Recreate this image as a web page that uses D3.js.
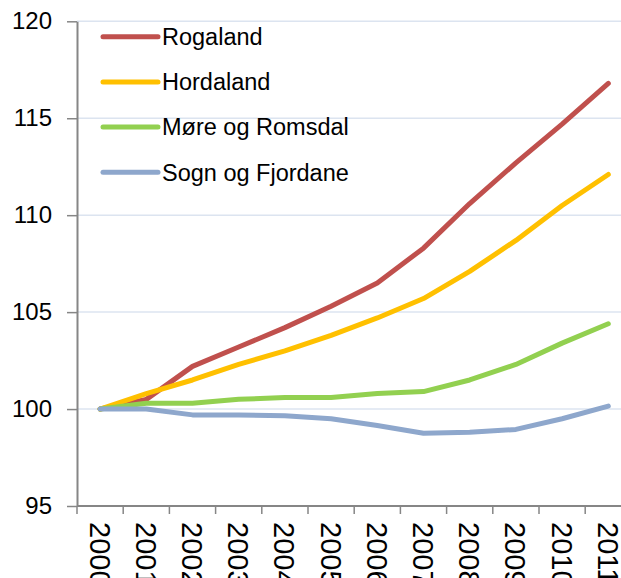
<!DOCTYPE html>
<html>
<head>
<meta charset="utf-8">
<script src="https://cdn.jsdelivr.net/npm/d3@7"></script>
<style>
  body { margin: 0; background: #fff; }
  svg { display: block; font-family: "Liberation Sans", Arial, sans-serif; }
</style>
</head>
<body>
<svg id="chart" width="621" height="578"></svg>
<script>
// index 2000 = 100
var years = ["2000", "2001", "2002", "2003", "2004", "2005", "2006", "2007", "2008", "2009", "2010", "2011"];
var yTicks = [95, 100, 105, 110, 115, 120];
var seriesNames = ["Rogaland", "Hordaland", "Møre og Romsdal", "Sogn og Fjordane"];
var seriesColors = ["#C0504D", "#FFC000", "#92D050", "#8EA7CC"];

var rogaland  = [100, 100.5, 102.2, 103.2, 104.2, 105.3, 106.5, 108.3, 110.6, 112.7, 114.7, 116.8];
var hordaland = [100, 100.8, 101.5, 102.3, 103.0, 103.8, 104.7, 105.7, 107.1, 108.7, 110.5, 112.1];
var moreRomsdal = [100, 100.3, 100.3, 100.5, 100.6, 100.6, 100.8, 100.9, 101.5, 102.3, 103.4, 104.4];
var sognFjordane = [100, 100.0, 99.7, 99.7, 99.65, 99.5, 99.15, 98.75, 98.8, 98.95, 99.5, 100.15];

var allSeries = [rogaland, hordaland, moreRomsdal, sognFjordane];

var svg = d3.select("#chart");

var margins = { left: 77, top: 21.3, bottom: 506 };
var band = 46.2;

var xScale = d3.scaleBand().domain(years).range([margins.left, margins.left + band * years.length]);
var yScale = d3.scaleLinear().domain([95, 120]).range([margins.bottom, margins.top]);

var axisColor = "#868686";

// gridlines
svg.append("g").selectAll("line")
    .data(yTicks.filter(function(t) { return t > 95; }))
    .enter().append("line")
    .attr("x1", margins.left).attr("x2", 621)
    .attr("y1", function(d) { return yScale(d); })
    .attr("y2", function(d) { return yScale(d); })
    .attr("stroke", "#DCE4F0")
    .attr("stroke-width", 1.5);

// y axis
var yAxis = svg.append("g")
    .attr("transform", "translate(" + margins.left + ",0)")
    .call(d3.axisLeft(yScale).tickValues(yTicks).tickSize(10).tickSizeOuter(0).tickPadding(15));
yAxis.select(".domain").attr("stroke", axisColor).attr("stroke-width", 2);
yAxis.selectAll(".tick line").attr("stroke", axisColor).attr("stroke-width", 1.5);
yAxis.selectAll(".tick text")
    .attr("fill", "#000")
    .style("font-size", "24px")
    .style("font-family", "'Liberation Sans', Arial, sans-serif");

// x axis
var xAxis = svg.append("g");
xAxis.append("line")
    .attr("x1", margins.left).attr("x2", 640)
    .attr("y1", margins.bottom).attr("y2", margins.bottom)
    .attr("stroke", axisColor).attr("stroke-width", 2);

xAxis.selectAll(".xtick")
    .data(years.concat(["end"]))
    .enter().append("line")
    .attr("class", "xtick")
    .attr("x1", function(d, i) { return margins.left + i * xScale.step(); })
    .attr("x2", function(d, i) { return margins.left + i * xScale.step(); })
    .attr("y1", margins.bottom).attr("y2", margins.bottom + 8)
    .attr("stroke", axisColor).attr("stroke-width", 1.5);

xAxis.selectAll(".xlabel")
    .data(years)
    .enter().append("text")
    .attr("class", "xlabel")
    .attr("transform", function(d) {
        return "translate(" + (xScale(d) + xScale.bandwidth() / 2) + "," + (margins.bottom + 16) + ") rotate(90)";
    })
    .attr("dy", "0.36em")
    .style("font-size", "29px")
    .attr("fill", "#000")
    .text(function(d) { return d; });

// lines
var line = d3.line()
    .x(function(d, i) { return xScale(years[i]) + xScale.bandwidth() / 2; })
    .y(function(d) { return yScale(d); });

svg.append("g").selectAll("path")
    .data(allSeries)
    .enter().append("path")
    .attr("d", line)
    .attr("fill", "none")
    .attr("stroke", function(d, i) { return seriesColors[i]; })
    .attr("stroke-width", 5)
    .attr("stroke-linecap", "round")
    .attr("stroke-linejoin", "round");

// legend
var legend = svg.append("g").selectAll("g")
    .data(seriesNames)
    .enter().append("g")
    .attr("transform", function(d, i) { return "translate(103," + (36.7 + i * 45.2) + ")"; });

legend.append("line")
    .attr("x1", 0).attr("x2", 55)
    .attr("stroke", function(d, i) { return seriesColors[i]; })
    .attr("stroke-width", 5)
    .attr("stroke-linecap", "round");

legend.append("text")
    .attr("x", 59)
    .attr("dy", "0.35em")
    .style("font-size", "23.5px")
    .attr("fill", "#000")
    .text(function(d) { return d; });
</script>
</body>
</html>
